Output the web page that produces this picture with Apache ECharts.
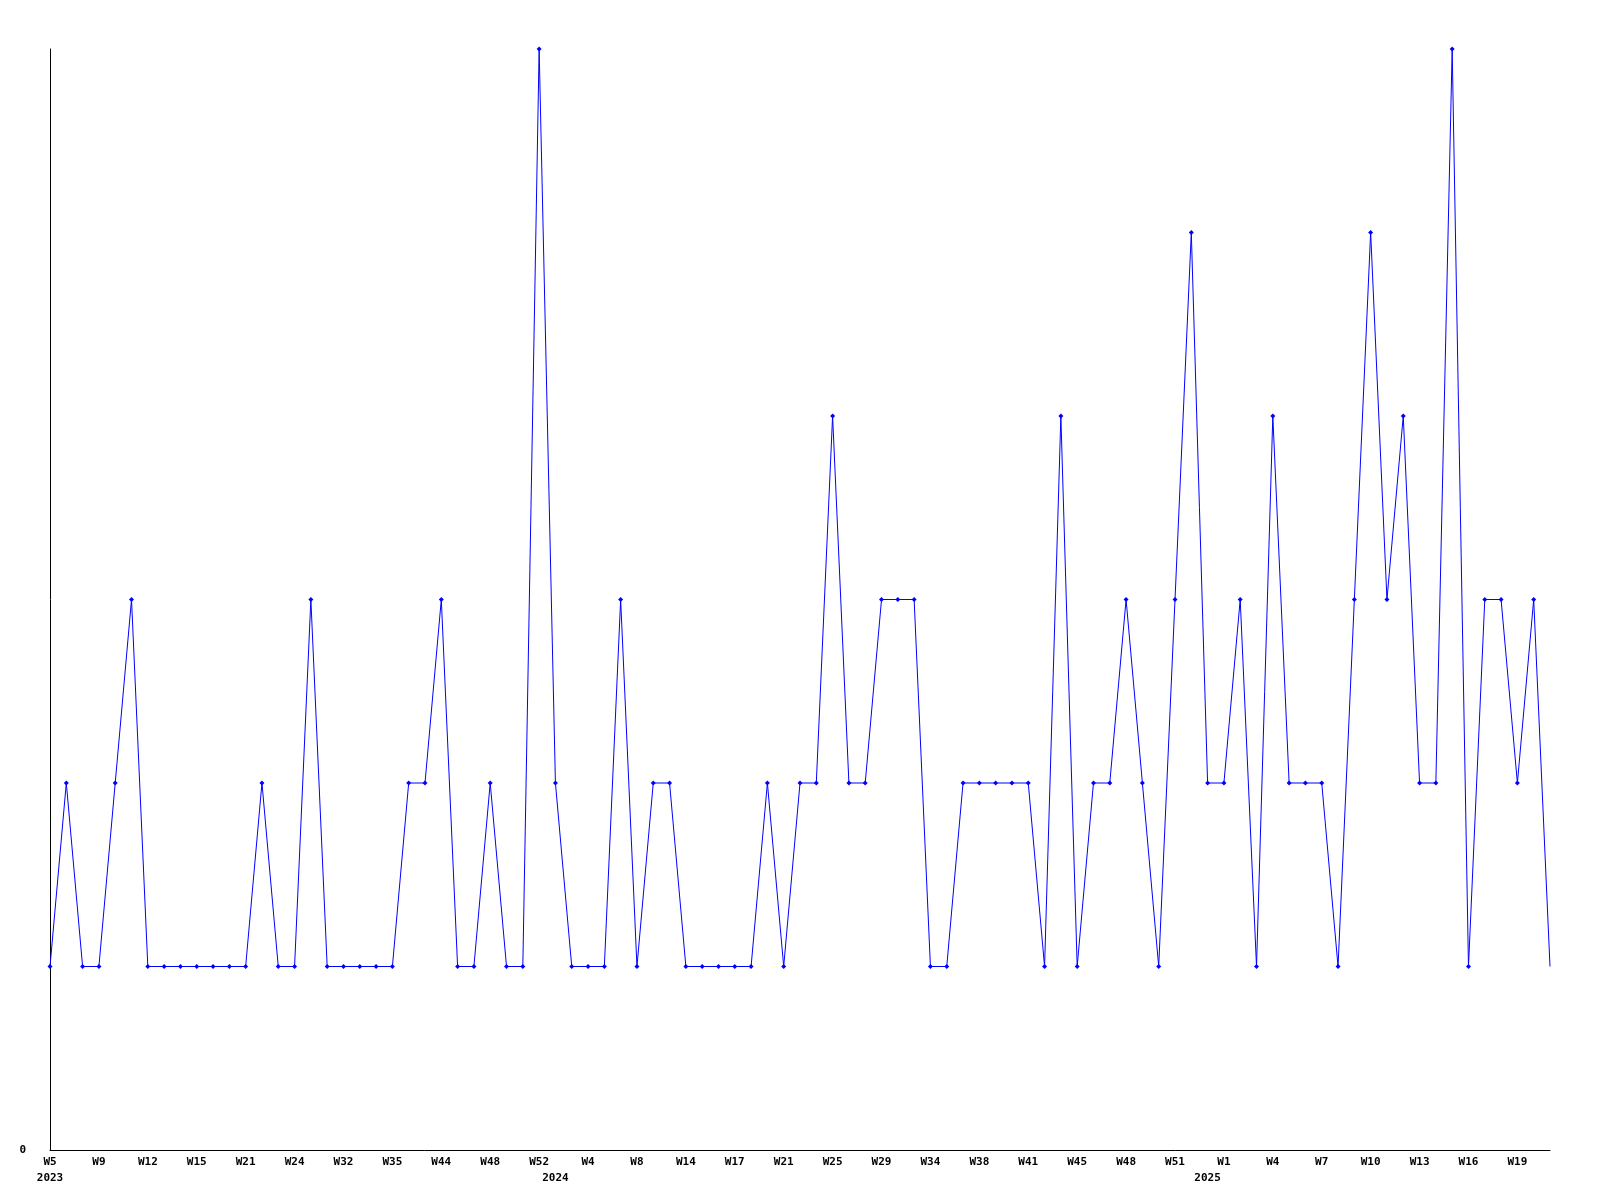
<!DOCTYPE html>
<html>
<head>
<meta charset="utf-8">
<script src="https://cdn.jsdelivr.net/npm/echarts@6/dist/echarts.min.js"></script>
<style>
html,body{margin:0;padding:0;background:#fff;}
#chart{width:1600px;height:1200px;}
</style>
</head>
<body>
<div id="chart"></div>
<script>
// Category labels (week numbers) and their years
const weeks = [
  'W5','W6','W8','W9','W10','W11','W12','W13','W14','W15','W17','W19','W21','W22','W23','W24','W26','W29','W32','W33','W34','W35','W38','W41','W44','W45','W46','W48','W49','W50','W52',
  'W1','W2','W4','W6','W7','W8','W10','W12','W14','W15','W16','W17','W19','W20','W21','W22','W24','W25','W26','W27','W29','W30','W31','W34','W35','W37','W38','W39','W40','W41','W43','W44','W45','W46','W47','W48','W49','W50','W51','W52',
  'W0','W1','W2','W3','W4','W5','W6','W7','W8','W9','W10','W11','W12','W13','W14','W15','W16','W17','W18','W19','W20','W21'
];
const years = [].concat(
  Array(31).fill('2023'),
  Array(40).fill('2024'),
  Array(22).fill('2025')
);
// Weekly counts
const counts = [
  1,2,1,1,2,3,1,1,1,1,1,1,1,2,1,1,3,1,1,1,1,1,2,2,3,1,1,2,1,1,6,
  2,1,1,1,3,1,2,2,1,1,1,1,1,2,1,2,2,4,2,2,3,3,3,1,1,2,2,2,2,2,1,4,1,2,2,3,2,1,3,5,
  2,2,3,1,4,2,2,2,1,3,5,3,4,2,2,6,1,3,3,2,3,1
];
const yTicks = ['0'];

const categories = weeks.map((w, i) => years[i] + '-' + w);
const seriesData = counts.map((v, i) => i === counts.length - 1 ? {value: v, symbol: 'none'} : v);

const chart = echarts.init(document.getElementById('chart'), null, {renderer: 'canvas'});
const font = {fontFamily: 'DejaVu Sans Mono', fontWeight: 'bold', fontSize: 11, color: '#000'};
chart.setOption({
  animation: false,
  backgroundColor: '#ffffff',
  grid: {left: 50, right: 50, top: 49, bottom: 50, containLabel: false},
  xAxis: [
    {
      type: 'category',
      data: categories,
      boundaryGap: false,
      position: 'bottom',
      axisLine: {show: true, lineStyle: {color: '#000', width: 1}},
      axisTick: {show: false},
      splitLine: {show: false},
      axisLabel: Object.assign({
        interval: 2,
        hideOverlap: false,
        margin: 7,
        formatter: (val, idx) => weeks[idx]
      }, font)
    },
    {
      type: 'category',
      data: categories,
      boundaryGap: false,
      position: 'bottom',
      offset: 16,
      axisLine: {show: false},
      axisTick: {show: false},
      splitLine: {show: false},
      axisLabel: Object.assign({
        interval: (idx) => idx === 0 || years[idx] !== years[idx - 1],
        hideOverlap: false,
        margin: 7,
        formatter: (val, idx) => years[idx]
      }, font)
    }
  ],
  yAxis: {
    type: 'value',
    min: 0,
    max: 6,
    interval: 1,
    axisLine: {show: true, lineStyle: {color: '#000', width: 1}},
    axisTick: {show: false},
    splitLine: {show: false},
    axisLabel: Object.assign({
      margin: 24,
      formatter: (v) => (v === 0 ? yTicks[0] : '')
    }, font)
  },
  series: [{
    type: 'line',
    data: seriesData,
    xAxisIndex: 0,
    symbol: 'diamond',
    symbolSize: 5,
    showAllSymbol: true,
    lineStyle: {color: '#0000ff', width: 1},
    itemStyle: {color: '#0000ff'},
    emphasis: {disabled: true}
  }]
});
</script>
</body>
</html>
